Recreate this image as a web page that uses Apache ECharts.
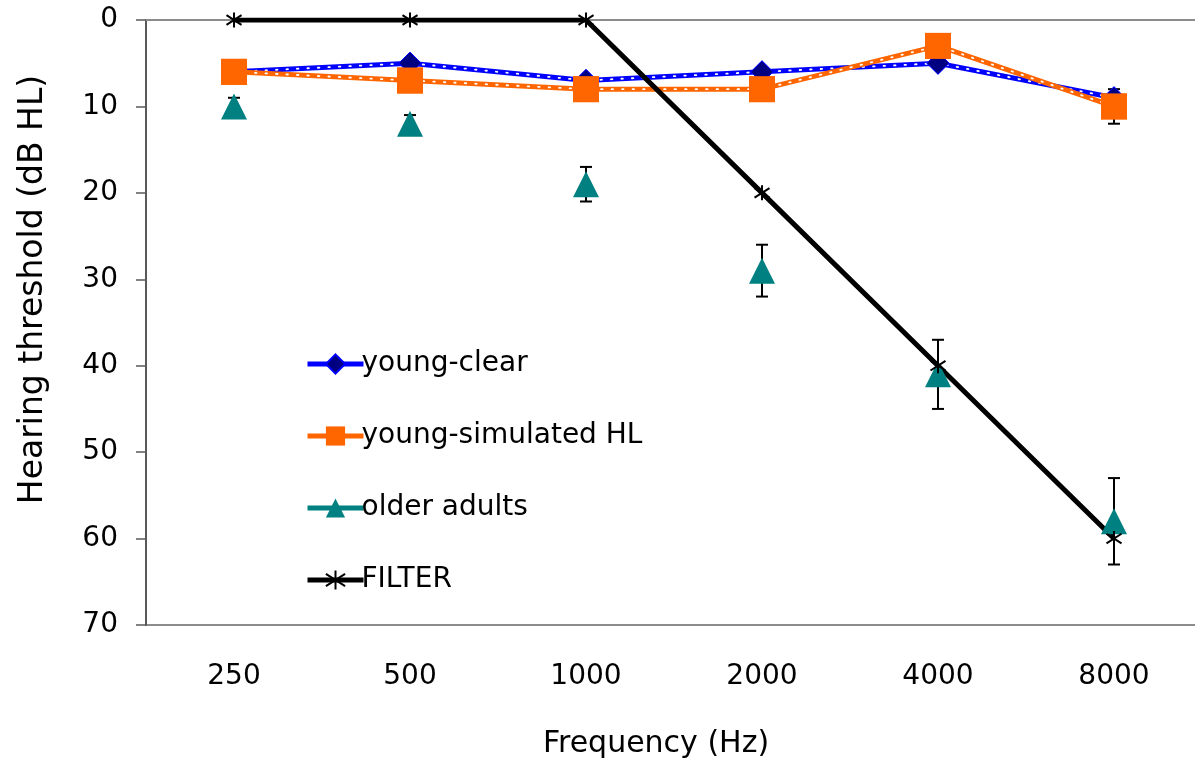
<!DOCTYPE html>
<html style="height: 100%">
<head>
    <meta charset="UTF-8">
    <title>Hearing threshold</title>
    <script src="https://cdn.jsdelivr.net/npm/echarts@6/dist/echarts.min.js"></script>
    <style>
        #main { width: 1195px; height: 768px; }
    </style>
</head>
<body style="height: 100%; margin: 0; padding: 0; background: #fff;">
    <div id="main"></div>
    <script>
        // frequencies (Hz)
        var freqs = ['250', '500', '1000', '2000', '4000', '8000'];
        var yTicks = [0, 10, 20, 30, 40, 50, 60, 70];

        // thresholds in dB HL
        var youngClear = [6, 5, 7, 6, 5, 9];
        var youngSim = [6, 7, 8, 8, 3, 10];
        var youngSimErr = [1, 1, 1, 1, 1, 2];
        var olderAdults = [10, 12, 19, 29, 41, 58];
        var olderErr = [1, 1, 2, 3, 4, 5];
        var filterLine = [0, 0, 0, 20, 40, 60];

        var FONT = 'DejaVu Sans';
        var asterisk = 'path://M5,0L5,10M0.8,1.8L9.2,8.2M9.2,1.8L0.8,8.2';

        function errData(vals, errs) {
            return vals.map(function (v, i) { return [i, v - errs[i], v + errs[i]]; });
        }

        // error bars sit under the markers
        function errorBars(name, data) {
            return {
                name: name,
                type: 'custom',
                silent: true,
                z: 1,
                data: data,
                renderItem: function (params, api) {
                    var lo = api.coord([api.value(0), api.value(1)]);
                    var hi = api.coord([api.value(0), api.value(2)]);
                    var w = 6;
                    var st = { stroke: '#000', lineWidth: 2 };
                    return {
                        type: 'group',
                        children: [
                            { type: 'line', shape: { x1: lo[0], y1: lo[1], x2: hi[0], y2: hi[1] }, style: st },
                            { type: 'line', shape: { x1: lo[0] - w, y1: lo[1], x2: lo[0] + w, y2: lo[1] }, style: st },
                            { type: 'line', shape: { x1: hi[0] - w, y1: hi[1], x2: hi[0] + w, y2: hi[1] }, style: st }
                        ]
                    };
                }
            };
        }

        function dots(data) {
            return {
                name: 'dots', type: 'line', data: data, symbol: 'none', silent: true,
                lineStyle: { color: '#ffffff', width: 1.8, type: [1.5, 9], cap: 'round' },
                emphasis: { disabled: true }
            };
        }

        var option = {
            animation: false,
            backgroundColor: '#fff',
            textStyle: { fontFamily: FONT },
            grid: {
                left: 146, right: -7, top: 20, bottom: 143,
                show: true, borderColor: '#8c8c8c', borderWidth: 2,
                outerBoundsMode: 'none'
            },
            legend: {
                orient: 'vertical',
                left: 300, top: 345,
                itemWidth: 56, itemHeight: 24, itemGap: 44,
                textStyle: { fontFamily: FONT, fontSize: 28, color: '#000', padding: [0, 0, 0, -7] },
                data: [
                    { name: 'young-clear', lineStyle: { width: 5 } },
                    { name: 'young-simulated HL', lineStyle: { width: 5 } },
                    { name: 'older adults', lineStyle: { color: '#008080', width: 5, opacity: 1 } },
                    { name: 'FILTER', lineStyle: { width: 5 } }
                ]
            },
            xAxis: {
                type: 'category',
                data: freqs,
                boundaryGap: true,
                name: 'Frequency (Hz)',
                nameLocation: 'middle',
                nameGap: 104,
                nameTextStyle: { fontFamily: FONT, fontSize: 30, color: '#000', padding: [0, 36, 0, 0] },
                axisLine: { lineStyle: { color: '#8c8c8c', width: 2 } },
                axisTick: { show: false },
                axisLabel: { fontFamily: FONT, fontSize: 28, color: '#000', margin: 38 },
                splitLine: { show: false }
            },
            yAxis: {
                type: 'value',
                inverse: true,
                min: yTicks[0],
                max: yTicks[yTicks.length - 1],
                interval: 10,
                name: 'Hearing threshold (dB HL)',
                nameLocation: 'middle',
                nameGap: 96,
                nameRotate: 90,
                nameTextStyle: { fontFamily: FONT, fontSize: 33, color: '#000', padding: [0, 0, 0, 66] },
                axisLine: { show: true, lineStyle: { color: '#595959', width: 2 } },
                axisTick: { show: true, length: 10, lineStyle: { color: '#595959', width: 1.5 } },
                axisLabel: { fontFamily: FONT, fontSize: 28, color: '#000', margin: 28 },
                splitLine: { show: false }
            },
            series: [
                errorBars('ys-err', errData(youngSim, youngSimErr)),
                errorBars('oa-err', errData(olderAdults, olderErr)),
                {
                    name: 'young-clear', type: 'line', data: youngClear,
                    symbol: 'diamond', symbolSize: 22,
                    lineStyle: { color: '#0000ff', width: 5 },
                    itemStyle: { color: '#000080', borderColor: '#0000ff', borderWidth: 1 }
                },
                dots(youngClear),
                {
                    name: 'young-simulated HL', type: 'line', data: youngSim,
                    symbol: 'rect', symbolSize: 26,
                    lineStyle: { color: '#ff6600', width: 5 },
                    itemStyle: { color: '#ff6600' }
                },
                dots(youngSim),
                {
                    name: 'older adults', type: 'line', data: olderAdults,
                    symbol: 'triangle', symbolSize: 26,
                    lineStyle: { color: '#008080', width: 5, opacity: 0 },
                    itemStyle: { color: '#008080' }
                },
                {
                    name: 'FILTER', type: 'line', data: filterLine,
                    symbol: asterisk, symbolSize: 15,
                    lineStyle: { color: '#000', width: 5 },
                    itemStyle: { color: 'none', borderColor: '#000', borderWidth: 2 }
                },
                {
                    name: 'yc-marks', type: 'scatter', data: youngClear, z: 3, silent: true,
                    symbol: 'diamond', symbolSize: 22,
                    itemStyle: { color: '#000080', borderColor: '#0000ff', borderWidth: 1, opacity: 1 }
                },
                {
                    name: 'ys-marks', type: 'scatter', data: youngSim, z: 3, silent: true,
                    symbol: 'rect', symbolSize: 26,
                    itemStyle: { color: '#ff6600', opacity: 1 }
                }
            ]
        };

        var chart = echarts.init(document.getElementById('main'));
        chart.setOption(option);
    </script>
</body>
</html>
